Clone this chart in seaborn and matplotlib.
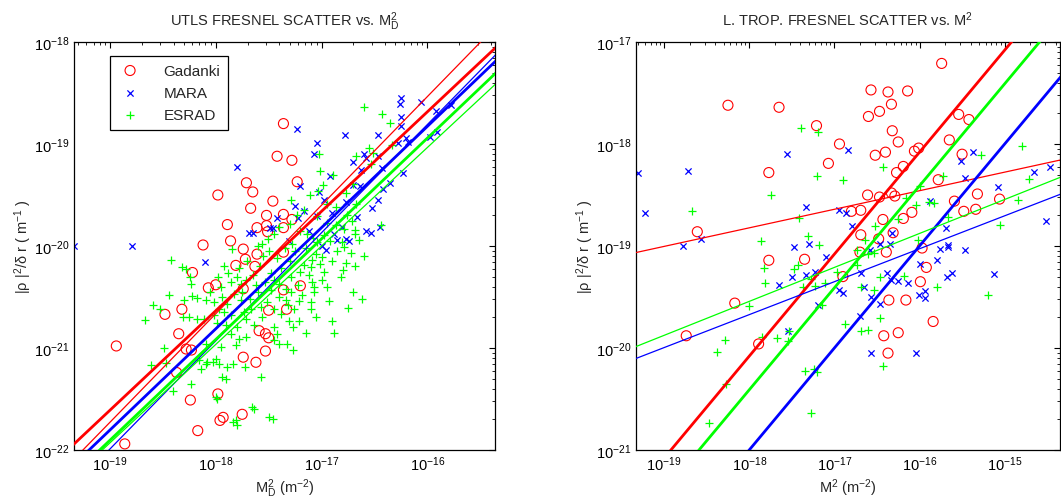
import numpy as np
import matplotlib
matplotlib.use("Agg")
import matplotlib.pyplot as plt
import seaborn as sns
from matplotlib.ticker import FixedLocator, NullFormatter, LogFormatterSciNotation

sns.set_style("white")
plt.rcParams['font.family'] = ['Liberation Sans', 'DejaVu Sans']
plt.rcParams['mathtext.default'] = 'regular'

# ---------------- data (log10 of M^2 [m^-2], log10 of |rho|^2/dr [m^-1]) ----------------
series_names = ["Gadanki", "MARA", "ESRAD"]

utls_gadanki = [(-17.36,-18.80),(-17.42,-19.12),(-17.28,-19.16),(-17.23,-19.37),(-17.71,-19.38),(-17.65,-19.47),
    (-17.98,-19.50),(-17.46,-19.56),(-17.67,-19.63),(-17.52,-19.70),(-17.36,-19.69),(-17.89,-19.79),(-17.52,-19.80),
    (-17.61,-19.82),(-17.36,-19.82),(-17.51,-19.86),(-17.28,-19.74),(-17.86,-19.95),(-18.12,-19.99),(-17.74,-20.03),
    (-17.61,-20.08),(-17.72,-20.13),(-17.81,-20.19),(-17.63,-20.20),(-18.22,-20.26),(-18.00,-20.38),(-18.07,-20.41),
    (-17.74,-20.42),(-17.36,-20.06),(-17.20,-20.39),(-17.36,-20.43),(-17.50,-20.63),(-18.32,-20.62),(-18.48,-20.67),
    (-17.33,-20.62),(-18.35,-20.86),(-17.59,-20.83),(-17.53,-20.86),(-17.50,-20.90),(-18.94,-20.98),(-18.28,-21.01),
    (-18.23,-21.02),(-17.53,-21.03),(-17.74,-21.09),(-17.62,-21.14),(-18.37,-21.24),(-17.98,-21.45),(-18.24,-21.51),
    (-17.93,-21.68),(-17.96,-21.71),(-17.75,-21.65),(-18.17,-21.81),(-18.86,-21.94)]

utls_mara = [(-16.25,-18.55),(-16.26,-18.61),(-16.06,-18.59),(-15.78,-18.62),(-15.92,-18.68),(-15.91,-18.88),
    (-15.97,-18.93),(-16.25,-18.74),(-16.25,-18.82),(-17.23,-18.85),(-17.04,-18.99),(-16.78,-18.91),(-16.47,-18.91),
    (-17.07,-19.10),(-16.60,-19.10),(-16.47,-19.12),(-16.20,-18.94),(-16.18,-18.98),(-16.28,-18.99),(-16.23,-19.28),
    (-16.92,-19.31),(-16.70,-19.18),(-16.63,-19.25),(-16.43,-19.24),(-16.42,-19.44),(-17.20,-19.41),(-17.02,-19.47),
    (-16.47,-19.55),(-16.52,-19.63),(-16.70,-19.40),(-16.64,-19.41),(-16.77,-19.57),(-16.45,-19.81),(-16.58,-19.85),
    (-16.53,-19.87),(-16.77,-19.93),(-16.74,-19.95),(-17.80,-19.23),(-17.69,-19.87),(-17.49,-19.82),(-17.42,-19.73),
    (-17.46,-19.82),(-17.65,-19.87),(-18.79,-20.00),(-19.34,-20.00),(-17.25,-19.61),(-17.17,-19.66),(-17.22,-19.73),
    (-17.04,-19.71),(-16.81,-19.81),(-16.85,-19.94),(-17.00,-20.00),(-16.58,-19.14),(-18.10,-20.16),(-16.96,-20.04),
    (-17.12,-19.85),(-17.31,-19.95),(-16.90,-19.68),(-16.66,-19.72),(-16.98,-19.55),(-16.35,-19.38),(-16.88,-19.88)]

utls_esrad = [(-16.60,-18.64),(-16.43,-18.71),(-16.35,-18.79),(-16.55,-19.04),(-16.33,-19.01),(-16.67,-19.12),
    (-16.51,-19.09),(-16.53,-19.20),(-17.01,-19.26),(-16.89,-19.30),(-17.02,-19.10),(-16.99,-19.40),(-17.11,-19.50),
    (-17.03,-19.46),(-16.70,-19.39),(-16.77,-19.48),(-17.29,-19.55),(-17.17,-19.65),(-17.23,-19.70),(-16.95,-19.59),
    (-16.86,-19.62),(-16.67,-19.59),(-16.71,-19.75),(-16.76,-19.70),(-17.04,-19.71),(-16.44,-19.79),(-16.68,-19.84),
    (-16.65,-19.94),(-16.79,-19.83),(-16.95,-19.77),(-16.86,-19.79),(-16.98,-19.89),(-17.14,-19.88),(-17.28,-19.98),
    (-17.04,-19.96),(-16.81,-19.96),(-16.68,-19.88),(-17.56,-19.98),(-17.51,-19.93),(-17.45,-19.88),(-17.40,-19.81),
    (-18.42,-20.14),(-17.85,-20.03),(-18.28,-20.23),(-18.24,-20.30),(-18.23,-20.37),(-17.88,-20.26),(-17.80,-20.30),
    (-17.86,-20.35),(-17.76,-20.37),(-17.71,-20.33),(-17.48,-20.26),(-17.45,-20.33),(-17.40,-20.37),(-17.48,-20.43),
    (-18.44,-20.48),(-18.59,-20.58),(-18.53,-20.62),(-18.67,-20.73),(-18.30,-20.53),(-18.18,-20.51),(-18.09,-20.53),
    (-18.02,-20.55),(-17.94,-20.50),(-17.89,-20.57),(-17.83,-20.47),(-17.76,-20.53),(-17.97,-20.62),(-17.92,-20.65),
    (-18.02,-20.68),(-17.86,-20.68),(-17.73,-20.65),(-17.67,-20.62),(-17.57,-20.60),(-17.45,-20.62),(-17.38,-20.67),
    (-18.25,-20.70),(-18.18,-20.72),(-18.11,-20.72),(-17.99,-20.75),(-17.90,-20.77),(-17.80,-20.79),(-17.71,-20.72),
    (-17.64,-20.77),(-17.56,-20.70),(-17.45,-20.79),(-17.42,-20.86),(-17.86,-20.86),(-17.78,-20.91),(-17.71,-20.89),
    (-17.81,-20.97),(-17.95,-20.99),(-18.09,-20.96),(-18.49,-21.00),(-18.16,-21.12),(-18.09,-21.16),(-18.00,-21.11),
    (-17.97,-21.16),(-17.72,-21.19),(-18.61,-21.17),(-18.47,-21.15),(-18.14,-21.21),(-17.90,-21.30),(-17.57,-21.28),
    (-18.23,-21.35),(-18.40,-21.42),(-17.99,-21.50),(-17.64,-21.60),(-17.81,-21.71),(-17.46,-21.70),(-17.45,-20.92),
    (-17.40,-20.96),(-18.32,-20.21),(-18.22,-20.49),(-18.31,-20.70),(-18.08,-21.14),(-18.03,-21.14),(-17.94,-21.28),
    (-17.89,-21.19),(-17.84,-21.16),(-17.66,-21.58),(-17.84,-21.73),(-17.80,-21.75),(-17.50,-21.68),(-18.00,-21.48),
    (-16.72,-20.07),(-16.77,-20.17),(-16.80,-20.24),(-16.82,-20.30),(-17.00,-20.11),(-17.01,-20.18),(-17.09,-20.14),
    (-17.05,-20.08),(-17.10,-20.21),(-17.17,-20.19),(-17.12,-20.28),(-17.29,-20.30),(-17.00,-20.33),(-17.07,-20.40),
    (-17.07,-20.45),(-17.09,-20.35),(-17.29,-20.45),(-17.21,-20.54),(-17.10,-20.55),(-16.93,-20.54),(-16.62,-20.52),
    (-16.75,-20.61),(-17.26,-20.62),(-17.34,-20.53),(-16.90,-20.74),(-17.21,-20.74),(-17.31,-20.74),(-17.27,-20.79),
    (-17.33,-20.96),(-17.27,-21.02),(-16.79,-20.01),
    # dense core of the cloud (estimated)
    (-17.60,-20.00),(-17.55,-20.10),(-17.50,-20.05),(-17.42,-20.12),(-17.35,-20.02),(-17.30,-20.15),(-17.25,-20.05),
    (-17.20,-20.25),(-17.15,-20.02),(-17.38,-20.22),(-17.58,-20.20),(-17.65,-20.28),(-17.53,-20.35),(-17.34,-20.42),
    (-17.22,-20.38),(-17.18,-20.48),(-17.40,-20.50),(-17.60,-20.45),(-17.68,-20.52),(-17.52,-20.55),(-17.32,-20.58),
    (-17.62,-20.38),(-17.75,-20.45),(-17.70,-20.15),(-17.78,-20.22),(-17.95,-20.40),(-18.05,-20.45),(-17.98,-20.30),
    (-17.92,-20.20),(-17.10,-20.62),(-17.15,-20.85),(-17.05,-20.70),(-16.95,-20.40),(-16.98,-20.25),(-16.90,-20.15),
    (-16.85,-20.05),(-16.92,-19.95),(-17.08,-19.92),(-17.20,-19.85),(-17.30,-19.78),(-16.88,-20.85),(-16.70,-20.45),
    (-16.68,-20.20),(-16.60,-20.10)]

lt_gadanki = [(-18.25,-17.62),(-17.65,-17.64),(-17.21,-17.82),(-16.94,-18.00),(-17.07,-18.19),(-17.77,-18.28),
    (-18.61,-18.86),(-15.74,-17.21),(-16.57,-17.47),(-16.37,-17.49),(-16.14,-17.48),(-16.33,-17.61),(-16.47,-17.68),
    (-16.60,-17.73),(-15.54,-17.71),(-15.42,-17.76),(-16.32,-17.87),(-16.25,-17.98),(-15.65,-17.96),(-16.01,-18.04),
    (-16.06,-18.07),(-16.40,-18.08),(-16.52,-18.11),(-15.50,-18.10),(-16.19,-18.22),(-16.27,-18.28),(-15.78,-18.35),
    (-16.61,-18.50),(-16.47,-18.52),(-16.33,-18.48),(-16.29,-18.51),(-15.32,-18.49),(-15.06,-18.54),(-15.59,-18.56),
    (-15.48,-18.66),(-15.34,-18.64),(-16.09,-18.67),(-16.19,-18.73),(-16.43,-18.74),(-16.69,-18.65),(-16.80,-18.66),
    (-16.69,-18.89),(-16.31,-18.87),(-16.48,-18.93),(-17.77,-19.14),(-17.35,-19.13),(-16.90,-19.30),(-18.17,-19.56),
    (-18.74,-19.88),(-17.89,-19.96),(-16.70,-19.06),(-16.39,-19.06),(-15.97,-19.02),(-15.92,-19.21),(-15.99,-19.35),
    (-16.36,-19.53),(-16.16,-19.53),(-15.84,-19.74),(-16.42,-19.88),(-16.25,-19.85),(-16.37,-20.05)]

lt_mara = [(-17.56,-18.10),(-18.72,-18.26),(-19.31,-18.28),(-19.23,-18.68),(-17.33,-18.62),(-16.95,-18.65),
    (-16.86,-18.68),(-18.57,-18.93),(-18.78,-19.00),(-17.30,-18.98),(-17.48,-19.01),(-16.84,-18.06),(-15.51,-18.17),
    (-15.37,-18.08),(-15.46,-18.33),(-15.08,-18.42),(-14.66,-18.27),(-14.47,-18.23),(-14.51,-18.75),(-15.88,-18.56),
    (-16.79,-18.80),(-15.69,-18.82),(-16.32,-18.87),(-16.47,-18.98),(-16.35,-18.98),(-15.67,-18.99),(-17.10,-19.11),
    (-17.50,-19.30),(-17.33,-19.28),(-17.23,-19.25),(-17.65,-19.38),(-16.94,-19.43),(-16.90,-19.46),(-17.19,-19.58),
    (-17.54,-19.83),(-15.76,-19.03),(-15.66,-19.01),(-15.46,-19.04),(-16.58,-19.04),(-16.00,-19.18),(-15.79,-19.14),
    (-16.69,-19.26),(-16.38,-19.26),(-16.33,-19.33),(-16.25,-19.34),(-16.13,-19.36),(-15.68,-19.30),(-15.62,-19.26),
    (-15.13,-19.27),(-16.65,-19.40),(-16.57,-19.50),(-16.46,-19.57),(-16.01,-19.48),(-15.93,-19.44),(-15.93,-19.51),
    (-16.70,-19.69),(-16.57,-20.05),(-16.04,-20.05)]

lt_esrad = [(-17.39,-17.84),(-17.19,-17.88),(-17.20,-18.31),(-16.90,-18.35),(-17.75,-18.50),(-18.67,-18.66),
    (-17.41,-18.73),(-17.31,-18.90),(-17.86,-18.95),(-17.18,-18.99),(-16.43,-18.23),(-14.80,-18.02),(-15.28,-18.11),
    (-15.73,-18.31),(-16.00,-18.41),(-14.71,-18.34),(-14.84,-18.55),(-15.89,-18.57),(-15.83,-18.58),(-16.04,-18.60),
    (-16.16,-18.53),(-15.67,-18.72),(-16.25,-18.74),(-16.52,-18.80),(-15.06,-18.79),(-16.64,-18.94),(-16.02,-18.94),
    (-17.83,-19.22),(-17.48,-19.23),(-17.43,-19.19),(-17.28,-19.32),(-16.97,-19.25),(-17.82,-19.36),(-17.37,-19.40),
    (-17.23,-19.39),(-17.11,-19.36),(-18.00,-19.59),(-17.14,-19.58),(-16.88,-19.76),(-17.53,-19.83),(-17.67,-19.90),
    (-17.54,-19.93),(-17.85,-19.89),(-18.28,-19.92),(-18.38,-20.04),(-18.27,-20.35),(-17.35,-20.23),(-17.24,-20.21),
    (-17.20,-20.24),(-17.28,-20.64),(-18.47,-20.74),(-16.74,-19.04),(-16.61,-19.08),(-16.54,-19.07),(-16.74,-19.19),
    (-16.47,-19.30),(-16.18,-19.29),(-16.69,-19.40),(-16.53,-19.43),(-15.79,-19.40),(-15.20,-19.48),(-16.46,-19.71),
    (-16.69,-19.83),(-16.60,-19.82),(-16.43,-20.18)]

# fit lines: (slope, log10 value at log10 M^2 = -17) ; thick fit, thin fit
utls_fits = {"Gadanki": [(0.975, -19.66), (1.064, -19.60)],
             "MARA":    [(0.992, -19.82), (1.060, -19.87)],
             "ESRAD":   [(0.987, -19.93), (0.965, -20.00)]}
lt_fits = {"Gadanki": [(1.000, -19.08), (0.182, -18.64)],
           "MARA":    [(1.000, -20.00), (0.323, -19.35)],
           "ESRAD":   [(1.000, -19.41), (0.333, -19.21)]}

# axis decades shown
utls_xdecades = [-19, -18, -17, -16]
utls_ydecades = [-22, -21, -20, -19, -18]
lt_xdecades = [-19, -18, -17, -16, -15]
lt_ydecades = [-21, -20, -19, -18, -17]

# ---------------- styling ----------------
colors = {"Gadanki": (1, 0, 0), "MARA": (0, 0, 1), "ESRAD": (0, 1, 0)}
FS = 10.5

fig = plt.figure(figsize=(10.61, 5.02), dpi=100)
ax1 = fig.add_axes([74/1061, 51/502, 421/1061, 408/502])
ax2 = fig.add_axes([636/1061, 51/502, 424/1061, 408/502])


def minor_positions(lo, hi):
    out = []
    for dec in range(int(np.floor(lo)) - 1, int(np.ceil(hi)) + 1):
        for m in range(2, 10):
            v = m * 10.0 ** dec
            if 10.0 ** lo <= v <= 10.0 ** hi:
                out.append(v)
    return out


def draw_panel(ax, data, fits, xlim_log, ylim_log, xdec, ydec, title, xlabel):
    ax.set_xscale('log')
    ax.set_yscale('log')
    for name in series_names:
        d = np.array(data[name])
        xs, ys = 10.0 ** d[:, 0], 10.0 ** d[:, 1]
        c = colors[name]
        if name == "Gadanki":
            sns.scatterplot(x=xs, y=ys, ax=ax, marker='o', s=52, facecolor='none',
                            edgecolor=c, linewidth=0.8, label=name, zorder=2)
        elif name == "MARA":
            sns.scatterplot(x=xs, y=ys, ax=ax, marker='x', s=20, color=c,
                            linewidth=0.9, label=name, zorder=2)
        else:
            sns.scatterplot(x=xs, y=ys, ax=ax, marker='+', s=40, color=c,
                            linewidth=0.9, label=name, zorder=2)
    xg_log = np.array([xlim_log[0] - 0.5, xlim_log[1] + 0.5])
    for name in series_names:
        for (slope, b), lw in zip(fits[name], (2.0, 0.9)):
            yg_log = b + slope * (xg_log + 17.0)
            sns.lineplot(x=10.0 ** xg_log, y=10.0 ** yg_log, ax=ax, color=colors[name],
                         linewidth=lw, estimator=None, sort=False, zorder=3)
    ax.set_xlim(10.0 ** xlim_log[0], 10.0 ** xlim_log[1])
    ax.set_ylim(10.0 ** ylim_log[0], 10.0 ** ylim_log[1])
    ax.xaxis.set_major_locator(FixedLocator([10.0 ** d for d in xdec]))
    ax.yaxis.set_major_locator(FixedLocator([10.0 ** d for d in ydec]))
    ax.xaxis.set_major_formatter(LogFormatterSciNotation())
    ax.yaxis.set_major_formatter(LogFormatterSciNotation())
    ax.xaxis.set_minor_locator(FixedLocator(minor_positions(*xlim_log)))
    ax.yaxis.set_minor_locator(FixedLocator(minor_positions(*ylim_log)))
    ax.xaxis.set_minor_formatter(NullFormatter())
    ax.yaxis.set_minor_formatter(NullFormatter())
    ax.tick_params(which='both', direction='in', top=True, right=True, labelsize=FS, colors='black')
    ax.tick_params(which='major', length=4.5, width=0.8)
    ax.tick_params(which='minor', length=2.2, width=0.6)
    for sp in ax.spines.values():
        sp.set_color('black')
        sp.set_linewidth(0.9)
    ax.set_title(title, fontsize=FS, pad=12)
    ax.set_xlabel(xlabel, fontsize=FS, labelpad=2)
    ax.set_ylabel('|ρ |$^2$/δ r ( m$^{-1}$ )', fontsize=FS, labelpad=0)
    ax.grid(False)


draw_panel(ax1, {"Gadanki": utls_gadanki, "MARA": utls_mara, "ESRAD": utls_esrad}, utls_fits,
           (-19.34, -15.36), (-22, -18), utls_xdecades, utls_ydecades,
           'UTLS FRESNEL SCATTER vs. M$_D^2$', 'M$_D^2$ (m$^{-2}$)')
draw_panel(ax2, {"Gadanki": lt_gadanki, "MARA": lt_mara, "ESRAD": lt_esrad}, lt_fits,
           (-19.33, -14.35), (-21, -17), lt_xdecades, lt_ydecades,
           'L. TROP. FRESNEL SCATTER vs. M$^2$', 'M$^2$ (m$^{-2}$)')

leg2 = ax2.get_legend()
if leg2 is not None:
    leg2.remove()
handles, labels = ax1.get_legend_handles_labels()
sel = [(h, l) for h, l in zip(handles, labels) if l in series_names]
leg = ax1.legend([h for h, _ in sel], [l for _, l in sel], loc='upper left',
                 bbox_to_anchor=(0.086, 0.966), borderaxespad=0, fancybox=False,
                 edgecolor='black', framealpha=1, fontsize=11, handlelength=1.6,
                 handletextpad=1.4, labelspacing=0.55, borderpad=0.5)
leg.get_frame().set_linewidth(0.9)

fig.savefig('out.png', dpi=100)
